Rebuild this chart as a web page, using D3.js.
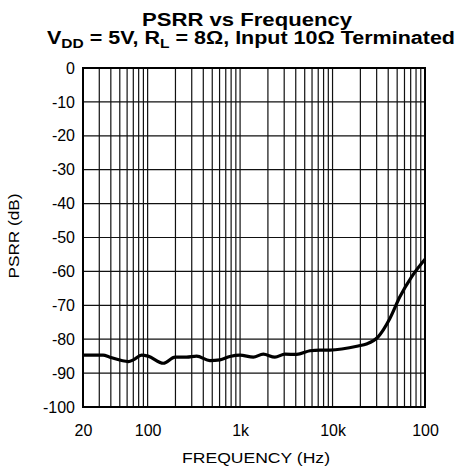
<!DOCTYPE html>
<html>
<head>
<meta charset="utf-8">
<script src="https://cdn.jsdelivr.net/npm/d3@7"></script>
<style>
  body { margin: 0; background: #fff; }
  text { font-family: "Liberation Sans", Arial, sans-serif; fill: #000; }
</style>
</head>
<body>
<svg id="chart" width="458" height="476"></svg>
<script>
// values
const freqs = [20, 33, 39, 62, 70, 86, 101, 148, 198, 264, 339, 472, 605, 776, 995,
               1390, 1780, 2380, 3060, 4090, 5690, 7300, 9360, 18900, 23300, 31100,
               41700, 53500, 71600, 100000];
const psrr = [-84.7, -84.7, -85.3, -86.6, -86.1, -84.7, -85, -87.1, -85.3, -85.3, -85,
              -86.3, -86.1, -85.1, -84.7, -85.3, -84.4, -85.3, -84.4, -84.5, -83.4,
              -83.2, -83.2, -82.0, -81.4, -79.3, -73.9, -67.5, -61.6, -56.4];
const xTicks = [20, 100, 1000, 10000, 100000];
const xTickLabels = ["20", "100", "1k", "10k", "100"];
const yTicks = [0, -10, -20, -30, -40, -50, -60, -70, -80, -90, -100];

const svg = d3.select("#chart");
const pLeft = 83, pRight = 425, pTop = 68, pBottom = 407;

const x = d3.scaleLog().domain([20, 100000]).range([pLeft, pRight]);
const y = d3.scaleLinear().domain([-100, 0]).range([pBottom, pTop]);

// grid - vertical lines at every 1..9 multiple
svg.append("g")
  .selectAll("line")
  .data(x.ticks())
  .join("line")
  .attr("x1", d => x(d)).attr("x2", d => x(d))
  .attr("y1", pTop).attr("y2", pBottom)
  .attr("stroke", "#111").attr("stroke-width", 1.2);

svg.append("g")
  .selectAll("line")
  .data(yTicks)
  .join("line")
  .attr("x1", pLeft).attr("x2", pRight)
  .attr("y1", d => y(d)).attr("y2", d => y(d))
  .attr("stroke", "#111").attr("stroke-width", 1.2);

// frame
svg.append("rect")
  .attr("x", pLeft).attr("y", pTop)
  .attr("width", pRight - pLeft).attr("height", pBottom - pTop)
  .attr("fill", "none").attr("stroke", "#000").attr("stroke-width", 2);

// axes, labels only
const xAxis = svg.append("g")
  .attr("transform", `translate(0,${pBottom})`)
  .call(d3.axisBottom(x).tickValues(xTicks).tickFormat((d, i) => xTickLabels[i]).tickSize(0).tickPadding(18));
xAxis.select(".domain").remove();
xAxis.selectAll("text").style("font-size", "16px");

const yAxis = svg.append("g")
  .attr("transform", `translate(${pLeft},0)`)
  .call(d3.axisLeft(y).tickValues(yTicks).tickFormat(d => d).tickSize(0).tickPadding(8));
yAxis.select(".domain").remove();
yAxis.selectAll("text").style("font-size", "16px");

// curve
const line = d3.line()
  .x((d, i) => x(freqs[i]))
  .y(d => y(d))
  .curve(d3.curveMonotoneX);

svg.append("path")
  .datum(psrr)
  .attr("d", line)
  .attr("fill", "none")
  .attr("stroke", "#000")
  .attr("stroke-width", 3.2)
  .attr("stroke-linejoin", "round");

// titles (the original font is wider than Liberation, so stretch to width)
svg.append("text")
  .attr("x", 247).attr("y", 26)
  .attr("text-anchor", "middle")
  .attr("textLength", 210).attr("lengthAdjust", "spacingAndGlyphs")
  .style("font-size", "18px").style("font-weight", "bold")
  .text("PSRR vs Frequency");

const t2 = svg.append("text")
  .attr("x", 251).attr("y", 44)
  .attr("text-anchor", "middle")
  .attr("textLength", 408).attr("lengthAdjust", "spacingAndGlyphs")
  .style("font-size", "18px").style("font-weight", "bold");
t2.append("tspan").text("V");
t2.append("tspan").attr("dy", 4).style("font-size", "13px").text("DD");
t2.append("tspan").attr("dy", -4).text(" = 5V, R");
t2.append("tspan").attr("dy", 4).style("font-size", "13px").text("L");
t2.append("tspan").attr("dy", -4).text(" = 8Ω, Input 10Ω Terminated");

svg.append("text")
  .attr("x", 256).attr("y", 463)
  .attr("text-anchor", "middle")
  .attr("textLength", 148).attr("lengthAdjust", "spacingAndGlyphs")
  .style("font-size", "15.5px")
  .text("FREQUENCY (Hz)");

svg.append("text")
  .attr("transform", "translate(19,236) rotate(-90)")
  .attr("text-anchor", "middle")
  .attr("textLength", 85).attr("lengthAdjust", "spacingAndGlyphs")
  .style("font-size", "15.5px")
  .text("PSRR (dB)");
</script>
</body>
</html>
